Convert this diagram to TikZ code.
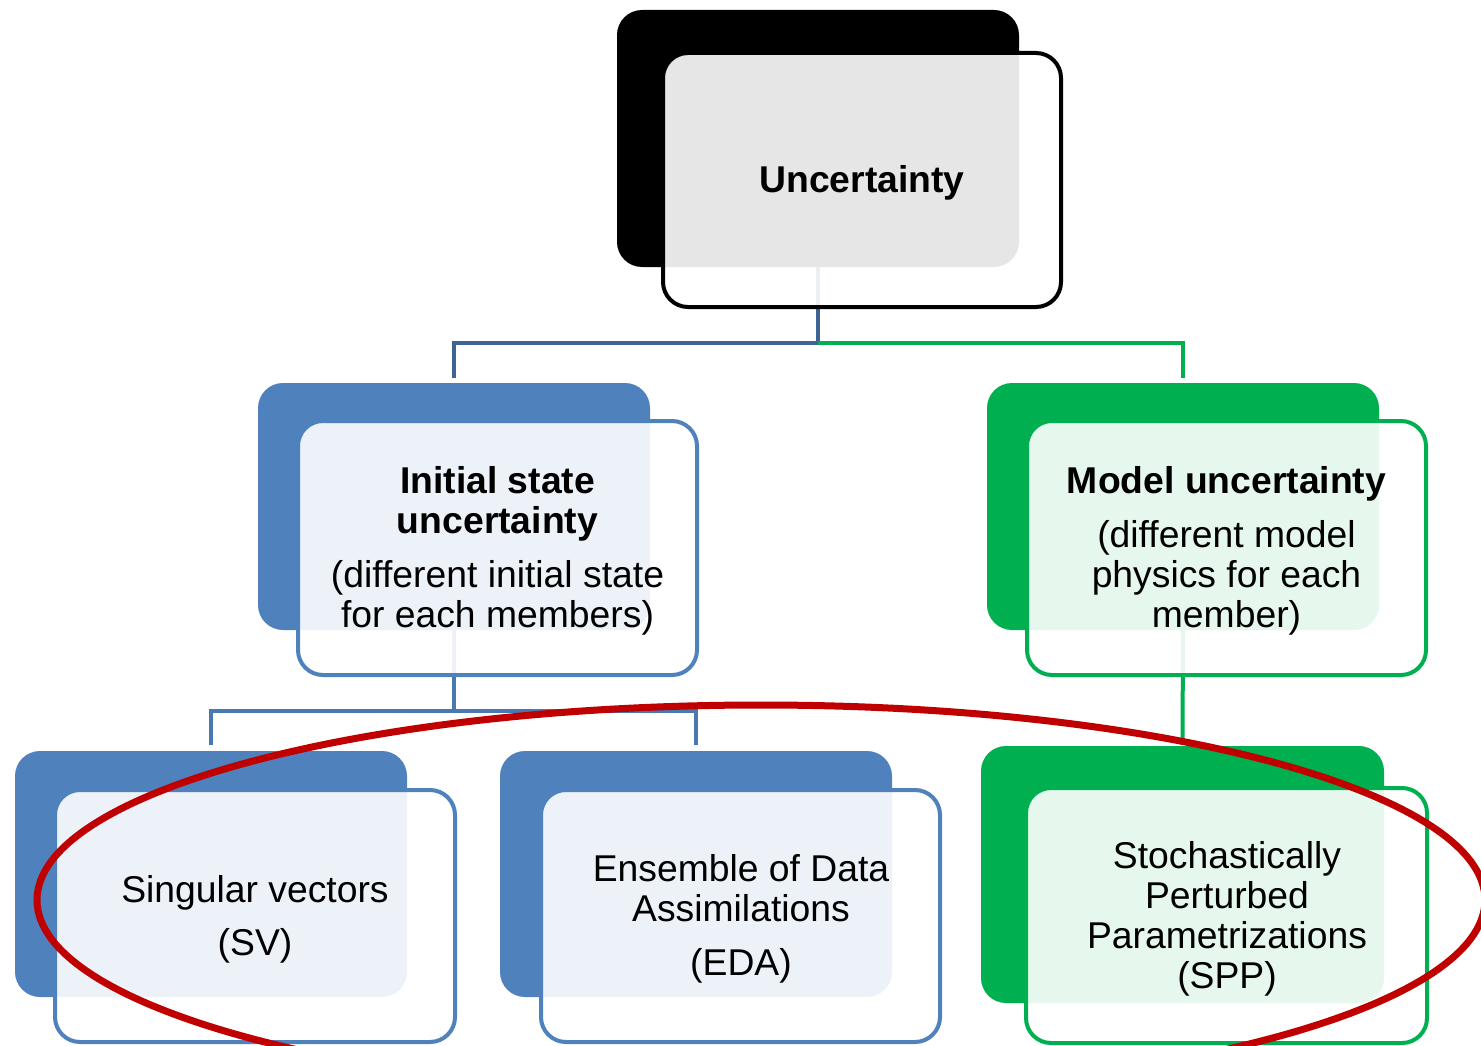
\documentclass[tikz,border=0pt]{standalone}
\usepackage{fontspec}
\setmainfont{Liberation Sans}
\usetikzlibrary{calc}
\definecolor{blueM}{HTML}{4F81BD}
\definecolor{greenM}{HTML}{00B050}
\definecolor{conTop}{HTML}{3C6494}
\definecolor{conLow}{HTML}{4A78B0}
\definecolor{redE}{HTML}{C00000}
\tikzset{
  backbox/.style={rectangle, rounded corners=25pt, inner sep=0pt, outer sep=0pt, draw=none},
  frontbox/.style={rectangle, rounded corners=25pt, inner sep=0pt, outer sep=0pt, line width=4pt, fill=white, fill opacity=0.9},
  label/.style={align=center, inner sep=0pt, text=black, yshift=-3pt, font=\fontsize{37.3}{40}\selectfont},
  conn/.style={line width=4pt, line join=miter},
}
\begin{document}
\begin{tikzpicture}[x=1pt,y=-1pt]
\useasboundingbox (0,0) rectangle (1481,1046);
\clip (0,0) rectangle (1481,1046);
\fill[white] (0,0) rectangle (1481,1046);

% junction coordinates
\coordinate (j1) at (818,343);
\coordinate (j2) at (454,711);

% back boxes (positions only, drawn later)
\path
  node[backbox, minimum width=402pt, minimum height=257pt] (topb) at (818,138.5) {}
  node[backbox, minimum width=392pt, minimum height=247pt] (isb)  at (454,506.5) {}
  node[backbox, minimum width=392pt, minimum height=247pt] (mub)  at (1183,506.5) {}
  node[backbox, minimum width=392pt, minimum height=246pt] (svb)  at (211,874) {}
  node[backbox, minimum width=392pt, minimum height=246pt] (edab) at (696,874) {}
  node[backbox, minimum width=403pt, minimum height=257pt] (sppb) at (1182.5,874.5) {};

% connectors
\draw[conn, conTop, shorten >=5pt] (topb.south) -- (j1) -| (isb.north);
\draw[conn, greenM, shorten >=5pt] (j1) -| (mub.north);
\draw[conn, conLow] (isb.south) -- (j2);
\draw[conn, conLow, shorten >=6pt] (j2) -| (svb.north);
\draw[conn, conLow, shorten >=6pt] (j2) -| (edab.north);
\draw[conn, greenM, shorten >=1pt] (mub.south) -- (sppb.north);

% back boxes filled
\fill[black, rounded corners=25pt] (topb.south west) rectangle (topb.north east);
\fill[blueM, rounded corners=25pt] (isb.south west) rectangle (isb.north east);
\fill[greenM, rounded corners=25pt] (mub.south west) rectangle (mub.north east);
\fill[blueM, rounded corners=25pt] (svb.south west) rectangle (svb.north east);
\fill[blueM, rounded corners=25pt] (edab.south west) rectangle (edab.north east);
\fill[greenM, rounded corners=25pt] (sppb.south west) rectangle (sppb.north east);

% front boxes
\node[frontbox, draw=black, minimum width=398pt, minimum height=254pt] (topf) at (862,180) {};
\node[frontbox, draw=blueM, minimum width=399pt, minimum height=254pt] (isf) at (497.5,548) {};
\node[frontbox, draw=greenM, minimum width=399pt, minimum height=254pt] (muf) at (1226.5,548) {};
\node[frontbox, draw=blueM, minimum width=400pt, minimum height=252pt] (svf) at (255,916) {};
\node[frontbox, draw=blueM, minimum width=399pt, minimum height=252pt] (edaf) at (740.5,916) {};
\node[frontbox, draw=greenM, minimum width=401pt, minimum height=255pt] (sppf) at (1226.5,915.5) {};

% texts
\node[label, font=\fontsize{37.3}{40}\selectfont\bfseries] (topt) at (topf.center) {Uncertainty};
\node[label] (ist) at (497.5,548) {\textbf{Initial state}\\\textbf{uncertainty}\\[14pt](different initial state\\for each members)};
\node[label] (mut) at (1226.5,548) {\textbf{Model uncertainty}\\[14pt](different model\\physics for each\\member)};
\node[label] (svt) at (255,916) {Singular vectors\\[13pt](SV)};
\node[label] (edat) at (741,916) {Ensemble of Data\\Assimilations\\[14pt](EDA)};
\node[label] (sppt) at (1227,916) {Stochastically\\Perturbed\\Parametrizations\\(SPP)};

% red ellipse
\draw[redE, line width=7pt] (761,900) ellipse [x radius=724, y radius=195];
\end{tikzpicture}
\end{document}
